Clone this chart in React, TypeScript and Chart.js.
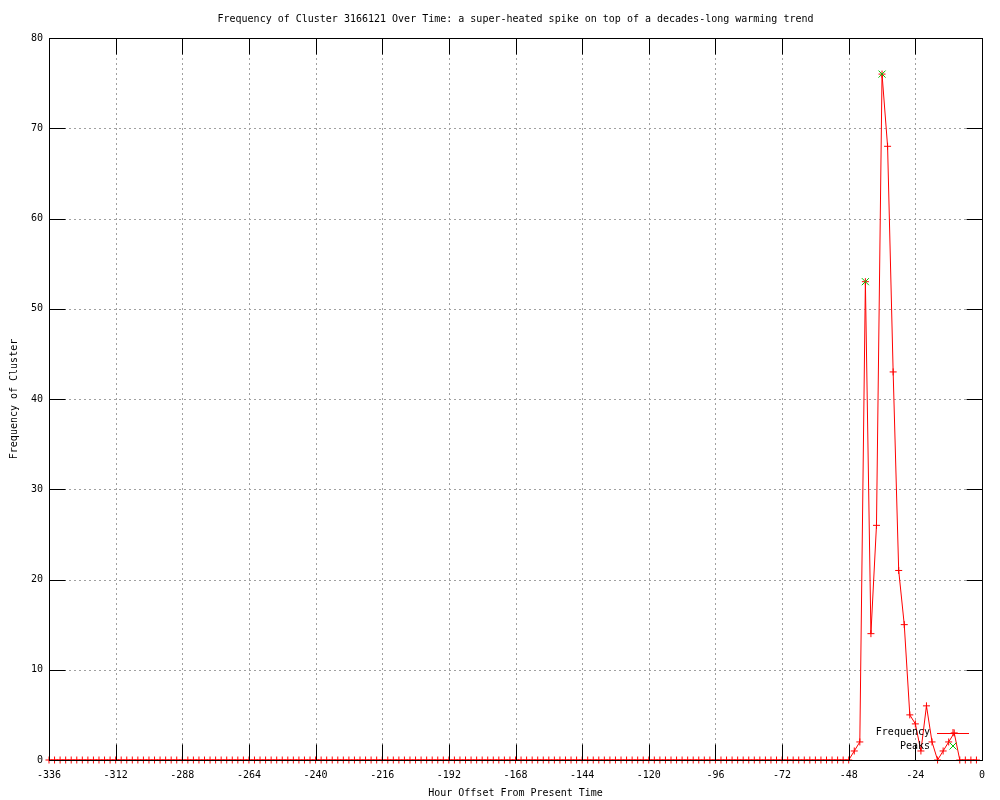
import React, { useEffect, useRef } from 'react';
import { Chart, registerables } from 'chart.js';

Chart.register(...registerables);

const TITLE = 'Frequency of Cluster 3166121 Over Time: a super-heated spike on top of a decades-long warming trend';
const X_LABEL = 'Hour Offset From Present Time';
const Y_LABEL = 'Frequency of Cluster';
const LEGEND_LABELS = ['Frequency', 'Peaks'];

// Hour offsets of the samples: -336 .. -2, one every 2 hours
const FIRST_HOUR = -336;
const HOUR_STEP = 2;

// Frequency per sample
const frequency = [
  0, 0, 0, 0, 0, 0, 0, 0, 0, 0, 0, 0, // -336 .. -314
  0, 0, 0, 0, 0, 0, 0, 0, 0, 0, 0, 0, // -312 .. -290
  0, 0, 0, 0, 0, 0, 0, 0, 0, 0, 0, 0, // -288 .. -266
  0, 0, 0, 0, 0, 0, 0, 0, 0, 0, 0, 0, // -264 .. -242
  0, 0, 0, 0, 0, 0, 0, 0, 0, 0, 0, 0, // -240 .. -218
  0, 0, 0, 0, 0, 0, 0, 0, 0, 0, 0, 0, // -216 .. -194
  0, 0, 0, 0, 0, 0, 0, 0, 0, 0, 0, 0, // -192 .. -170
  0, 0, 0, 0, 0, 0, 0, 0, 0, 0, 0, 0, // -168 .. -146
  0, 0, 0, 0, 0, 0, 0, 0, 0, 0, 0, 0, // -144 .. -122
  0, 0, 0, 0, 0, 0, 0, 0, 0, 0, 0, 0, // -120 .. -98
  0, 0, 0, 0, 0, 0, 0, 0, 0, 0, 0, 0, // -96 .. -74
  0, 0, 0, 0, 0, 0, 0, 0, 0, 0, 0, 0, // -72 .. -50
  0, 1, 2, 53, 14, 26, 76, 68, 43, 21, 15, 5, // -48 .. -26
  4, 1, 6, 2, 0, 1, 2, 3, 0, 0, 0, 0, // -24 .. -2
];

const peakHours = [-42, -36];
const peakValues = [53, 76];

const xTickValues = [-336, -312, -288, -264, -240, -216, -192, -168, -144, -120, -96, -72, -48, -24, 0];
const yTickValues = [0, 10, 20, 30, 40, 50, 60, 70, 80];

const FONT_FAMILY = '"DejaVu Sans Mono", "Liberation Mono", monospace';
const RED = '#ff0000';
const GREEN = '#00c000';

const gnuplotDecor = {
  id: 'gnuplotDecor',
  beforeDatasetsDraw(chart: any) {
    const { ctx, chartArea: a, scales } = chart;
    const x = scales.x;
    const y = scales.y;
    ctx.save();
    ctx.strokeStyle = '#a0a0a0';
    ctx.lineWidth = 1;
    ctx.setLineDash([2, 3]);
    x.ticks.forEach((t: any) => {
      const px = Math.round(x.getPixelForValue(t.value)) + 0.5;
      ctx.beginPath();
      ctx.moveTo(px, a.top);
      ctx.lineTo(px, a.bottom);
      ctx.stroke();
    });
    y.ticks.forEach((t: any) => {
      const py = Math.round(y.getPixelForValue(t.value)) + 0.5;
      ctx.beginPath();
      ctx.moveTo(a.left, py);
      ctx.lineTo(a.right, py);
      ctx.stroke();
    });
    ctx.restore();
  },
  afterDatasetsDraw(chart: any) {
    const { ctx, chartArea: a, scales } = chart;
    const x = scales.x;
    const y = scales.y;
    const L = Math.round(a.left) + 0.5;
    const R = Math.round(a.right) + 0.5;
    const T = Math.round(a.top) + 0.5;
    const B = Math.round(a.bottom) + 0.5;
    const TL = 16;
    ctx.save();
    ctx.setLineDash([]);
    ctx.strokeStyle = '#000';
    ctx.lineWidth = 1;
    ctx.strokeRect(L, T, R - L, B - T);
    ctx.beginPath();
    x.ticks.forEach((t: any) => {
      const px = Math.round(x.getPixelForValue(t.value)) + 0.5;
      ctx.moveTo(px, B);
      ctx.lineTo(px, B - TL);
      ctx.moveTo(px, T);
      ctx.lineTo(px, T + TL);
    });
    y.ticks.forEach((t: any) => {
      const py = Math.round(y.getPixelForValue(t.value)) + 0.5;
      ctx.moveTo(L, py);
      ctx.lineTo(L + TL, py);
      ctx.moveTo(R, py);
      ctx.lineTo(R - TL, py);
    });
    ctx.stroke();

    // legend (gnuplot style key, bottom right)
    ctx.font = `10px ${FONT_FAMILY}`;
    ctx.fillStyle = '#000';
    ctx.textAlign = 'right';
    ctx.textBaseline = 'middle';
    const textRight = a.right - 52;
    const rows = [a.bottom - 27.5, a.bottom - 14];
    ctx.fillText(LEGEND_LABELS[0], textRight, rows[0]);
    ctx.fillText(LEGEND_LABELS[1], textRight, rows[1]);
    const sx0 = a.right - 45;
    const sx1 = a.right - 13;
    const cx = (sx0 + sx1) / 2;
    ctx.strokeStyle = RED;
    ctx.beginPath();
    ctx.moveTo(sx0, Math.round(rows[0]) + 0.5);
    ctx.lineTo(sx1, Math.round(rows[0]) + 0.5);
    ctx.moveTo(cx, rows[0] - 3.5);
    ctx.lineTo(cx, rows[0] + 3.5);
    ctx.stroke();
    ctx.strokeStyle = GREEN;
    ctx.beginPath();
    ctx.moveTo(cx - 3.5, rows[1] - 3.5);
    ctx.lineTo(cx + 3.5, rows[1] + 3.5);
    ctx.moveTo(cx - 3.5, rows[1] + 3.5);
    ctx.lineTo(cx + 3.5, rows[1] - 3.5);
    ctx.stroke();

    // title
    ctx.fillStyle = '#000';
    ctx.textAlign = 'center';
    ctx.textBaseline = 'middle';
    ctx.fillText(TITLE, (a.left + a.right) / 2, 19);
    ctx.restore();
  },
};

export default function App() {
  const canvasRef = useRef<HTMLCanvasElement | null>(null);

  useEffect(() => {
    document.body.style.margin = '0';
    const canvas = canvasRef.current;
    if (!canvas) return;
    const freqPoints = frequency.map((v, i) => ({ x: FIRST_HOUR + i * HOUR_STEP, y: v }));
    const peakPoints = peakHours.map((h, i) => ({ x: h, y: peakValues[i] }));
    const tickFont = { family: FONT_FAMILY, size: 10 };
    const chart = new Chart(canvas, {
      type: 'line',
      data: {
        datasets: [
          {
            label: LEGEND_LABELS[0],
            data: freqPoints,
            borderColor: RED,
            backgroundColor: RED,
            borderWidth: 1,
            tension: 0,
            pointStyle: 'cross',
            pointRadius: 3.5,
            pointBorderColor: RED,
            pointBorderWidth: 1,
            clip: false as any,
            order: 2,
          },
          {
            label: LEGEND_LABELS[1],
            data: peakPoints,
            showLine: false,
            borderColor: GREEN,
            backgroundColor: GREEN,
            pointStyle: 'crossRot',
            pointRadius: 5,
            pointBorderColor: GREEN,
            pointBorderWidth: 1,
            clip: false as any,
            order: 1,
          },
        ],
      },
      options: {
        responsive: false,
        animation: false,
        events: [],
        layout: { padding: { top: 38, right: 18, left: 0, bottom: 0 } },
        plugins: {
          legend: { display: false },
          title: { display: false },
          tooltip: { enabled: false },
        },
        scales: {
          x: {
            type: 'linear',
            min: -336,
            max: 0,
            afterBuildTicks: (scale: any) => {
              scale.ticks = xTickValues.map((v) => ({ value: v }));
            },
            afterFit: (scale: any) => {
              scale.height = 40;
            },
            ticks: {
              font: tickFont,
              color: '#000',
              padding: 9,
              maxRotation: 0,
              autoSkip: false,
            },
            grid: { display: false, drawTicks: false },
            border: { display: false },
            title: {
              display: true,
              text: X_LABEL,
              font: tickFont,
              color: '#000',
              padding: { top: 0, bottom: 1 },
            },
          },
          y: {
            type: 'linear',
            min: 0,
            max: 80,
            afterBuildTicks: (scale: any) => {
              scale.ticks = yTickValues.map((v) => ({ value: v }));
            },
            afterFit: (scale: any) => {
              scale.width = 49;
            },
            ticks: {
              font: tickFont,
              color: '#000',
              padding: 6,
              autoSkip: false,
            },
            grid: { display: false, drawTicks: false },
            border: { display: false },
            title: {
              display: true,
              text: Y_LABEL,
              font: tickFont,
              color: '#000',
              padding: { top: 8, bottom: 0 },
            },
          },
        },
      },
      plugins: [gnuplotDecor],
    });
    return () => chart.destroy();
  }, []);

  return (
    <div style={{ width: 1000, height: 800, background: '#fff' }}>
      <canvas ref={canvasRef} width={1000} height={800} style={{ display: 'block' }} />
    </div>
  );
}
